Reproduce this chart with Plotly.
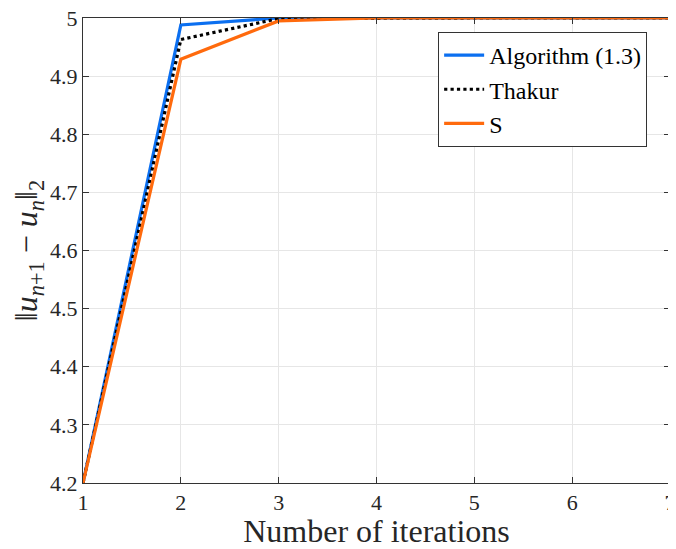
import plotly.graph_objects as go

iterations = [1, 2, 3, 4, 5, 6, 7]
algo_13 = [4.2, 4.988, 5.0, 5.0, 5.0, 5.0, 5.0]
thakur = [4.2, 4.963, 4.999, 5.0, 5.0, 5.0, 5.0]
s_iter = [4.2, 4.929, 4.995, 5.0, 5.0, 5.0, 5.0]
series_names = ["Algorithm (1.3)", "Thakur", "S"]

x_ticks = [1, 2, 3, 4, 5, 6, 7]
y_ticks = [4.2, 4.3, 4.4, 4.5, 4.6, 4.7, 4.8, 4.9, 5.0]
y_ticklabels = ["4.2", "4.3", "4.4", "4.5", "4.6", "4.7", "4.8", "4.9", "5"]

font = "Liberation Serif"

fig = go.Figure()
fig.add_trace(go.Scatter(x=iterations, y=algo_13, mode="lines", name=series_names[0],
                         line=dict(color="#0b6ff0", width=3.2)))
fig.add_trace(go.Scatter(x=iterations, y=thakur, mode="lines", name=series_names[1],
                         line=dict(color="black", width=3.2, dash="dot")))
fig.add_trace(go.Scatter(x=iterations, y=s_iter, mode="lines", name=series_names[2],
                         line=dict(color="#ff6a0d", width=3.2)))

axis_common = dict(showline=True, linecolor="#333333", linewidth=1, mirror="ticks",
                   ticks="inside", ticklen=6, tickcolor="#333333",
                   showgrid=True, gridcolor="#e6e6e6", gridwidth=1, zeroline=False,
                   automargin=False, ticklabeloverflow="allow",
                   tickfont=dict(family=font, size=22, color="#262626"))

fig.update_layout(
    width=676, height=541,
    margin=dict(l=75, r=14, t=10, b=66),
    paper_bgcolor="white", plot_bgcolor="white",
    font=dict(family=font, size=22, color="#262626"),
    xaxis=dict(range=[1, 7], tickvals=x_ticks, **axis_common,
               title=dict(text="Number of iterations", font=dict(family=font, size=32), standoff=3)),
    yaxis=dict(range=[4.2, 5.0], tickvals=y_ticks, ticktext=y_ticklabels, **axis_common,
               title=dict(text="‖<i>u</i><sub><i>n</i>+1</sub> − <i>u</i><sub><i>n</i></sub>‖<sub>2</sub>",
                          font=dict(family=font, size=32), standoff=10)),
    legend=dict(x=0.605, y=0.97, xanchor="left", yanchor="top",
                bgcolor="white", bordercolor="#333333", borderwidth=1,
                font=dict(family=font, size=24, color="black"),
                tracegroupgap=0, itemwidth=40),
    showlegend=True,
)

fig.write_html("out.html")
